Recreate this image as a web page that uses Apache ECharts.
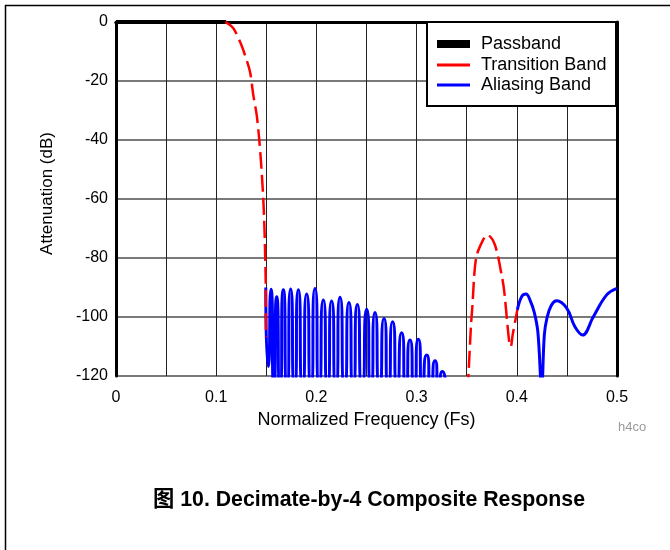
<!DOCTYPE html>
<html>
<head>
<meta charset="utf-8">
<script src="https://cdn.jsdelivr.net/npm/echarts@6/dist/echarts.min.js"></script>
<style>
html,body{margin:0;padding:0;background:#fff;}
#chart{width:670px;height:550px;}
</style>
</head>
<body>
<div id="chart"></div>
<script>
// ---- data ----
const xTicks = [0, 0.1, 0.2, 0.3, 0.4, 0.5];
const yTicks = [0, -20, -40, -60, -80, -100, -120];

const passFreq = [0, 0.11];
const passDb = [0, 0];

const trans1Freq = [0.1090, 0.1107, 0.1171, 0.1238, 0.1287, 0.1337, 0.1370, 0.1404, 0.1427, 0.1447, 0.1464, 0.1477, 0.1487, 0.1494, 0.1497];
const trans1Db = [0, -0.3, -2.1, -6.7, -11.2, -16.8, -24.7, -31.5, -38.9, -47.4, -56.4, -65.4, -76.7, -88.0, -106.7];

const trans2Freq = [0.3510, 0.3543, 0.3556, 0.3593, 0.3660, 0.3709, 0.3782, 0.3849, 0.3875, 0.3925, 0.3940, 0.3959, 0.4005];
const trans2Db = [-125, -102.7, -96.7, -80.1, -74.1, -72.2, -75.6, -85.8, -91.4, -108.7, -110.0, -106.0, -97.6];

const alias1Freq = [0.1495, 0.1520, 0.1547, 0.1576, 0.1604, 0.1637, 0.1670, 0.1707, 0.1743, 0.1782, 0.1820, 0.1862, 0.1903, 0.1945, 0.1986, 0.2028, 0.2069, 0.2111, 0.2152, 0.2194, 0.2236, 0.2281, 0.2325, 0.2367, 0.2409, 0.2456, 0.2502, 0.2544, 0.2585, 0.2630, 0.2675, 0.2718, 0.2761, 0.2806, 0.2851, 0.2893, 0.2934, 0.2976, 0.3017, 0.3059, 0.3101, 0.3143, 0.3184, 0.3221, 0.3257, 0.3290];
const alias1Db = [-90.0, -116.8, -90.6, -124, -93.1, -124, -90.8, -124, -90.5, -124, -90.8, -124, -92.2, -124, -90.3, -124, -94.2, -124, -94.6, -124, -93.3, -124, -95.1, -124, -95.8, -124, -97.4, -124, -98.5, -124, -100.5, -124, -101.6, -124, -105.3, -124, -107.8, -124, -107.5, -124, -112.9, -124, -114.8, -124, -118.5, -124];

const alias2Freq = [0.4005, 0.4050, 0.4092, 0.4135, 0.4175, 0.4210, 0.4248, 0.4275, 0.4300, 0.4345, 0.4398, 0.4498, 0.4580, 0.4657, 0.4764, 0.4897, 0.5000];
const alias2Db = [-97.6, -93.0, -92.2, -94.5, -98.5, -105.0, -124, -106.0, -100.5, -96.0, -94.5, -97.0, -103.3, -106.1, -99.9, -92.5, -90.3];

const seriesNames = ['Passband', 'Transition Band', 'Aliasing Band'];
const titleText = '图 10. Decimate-by-4 Composite Response';
const xName = 'Normalized Frequency (Fs)';
const yName = 'Attenuation (dB)';

// ---- build ----
function pairs(xs, ys) { return xs.map((x, i) => [x, ys[i]]); }
const passData = pairs(passFreq, passDb);
const transData = pairs(trans1Freq, trans1Db).concat([[null, null]], pairs(trans2Freq, trans2Db));
const alias1Data = pairs(alias1Freq, alias1Db);
const alias2Data = pairs(alias2Freq, alias2Db);

const FONT = "'Liberation Sans', Arial, 'Noto Sans CJK SC', sans-serif";
const chart = echarts.init(document.getElementById('chart'), null, {renderer: 'canvas'});

function legendFor(name, top, h) {
  return {
    data: [{name: name, icon: 'rect'}],
    left: 437, top: top, padding: 0, z: 10,
    itemWidth: 33, itemHeight: h,
    textStyle: {fontFamily: FONT, fontSize: 18, color: '#000', padding: [0, 0, 0, 6], lineHeight: 20},
    selectedMode: false
  };
}

const option = {
  animation: false,
  backgroundColor: '#fff',
  title: {
    text: titleText, left: 148, top: 484,
    textStyle: {fontFamily: FONT, fontSize: 21.3, fontWeight: 'bold', color: '#000'}
  },
  grid: {left: 116, right: 53, top: 22, bottom: 174, containLabel: false},
  legend: [
    legendFor(seriesNames[0], 34, 8),
    legendFor(seriesNames[1], 55, 3),
    legendFor(seriesNames[2], 75, 3)
  ],
  xAxis: [{
    type: 'value', min: 0, max: 0.5, interval: 0.05,
    name: xName, nameLocation: 'middle', nameGap: 33,
    nameTextStyle: {fontFamily: FONT, fontSize: 18, color: '#000'},
    axisLine: {show: true, lineStyle: {color: '#000', width: 3}},
    axisTick: {show: false},
    axisLabel: {
      fontFamily: FONT, fontSize: 16, color: '#000', margin: 14,
      formatter: function (v) {
        const k = Math.round(v * 20);
        if (k % 2 !== 0) return '';
        const t = xTicks.find(tk => Math.abs(tk - v) < 1e-9);
        return t === undefined ? '' : String(t);
      }
    },
    splitLine: {show: true, lineStyle: {color: '#222', width: 1}}
  }, {
    type: 'value', position: 'top', min: 0, max: 0.5,
    axisLine: {show: true, lineStyle: {color: '#000', width: 3}},
    axisTick: {show: false}, axisLabel: {show: false}, splitLine: {show: false}
  }],
  yAxis: [{
    type: 'value', min: -120, max: 0, interval: 20,
    name: yName, nameLocation: 'middle', nameGap: 60, nameRotate: 90,
    nameTextStyle: {fontFamily: FONT, fontSize: 17, color: '#000', padding: [0, 0, 0, 11]},
    axisLine: {show: true, onZero: false, lineStyle: {color: '#000', width: 3}},
    axisTick: {show: false},
    axisLabel: {
      fontFamily: FONT, fontSize: 16, color: '#000', margin: 8,
      formatter: function (v) {
        const t = yTicks.find(tk => Math.abs(tk - v) < 1e-9);
        return t === undefined ? '' : String(t);
      }
    },
    splitLine: {show: true, lineStyle: {color: '#7a7a7a', width: 2}}
  }, {
    type: 'value', position: 'right', min: -120, max: 0,
    axisLine: {show: true, onZero: false, lineStyle: {color: '#000', width: 3}},
    axisTick: {show: false}, axisLabel: {show: false}, splitLine: {show: false}
  }],
  series: [{
    name: seriesNames[0], type: 'line', data: passData,
    color: '#000', showSymbol: false, symbol: 'none',
    lineStyle: {color: '#000', width: 4}, clip: true, z: 3
  }, {
    name: seriesNames[2], type: 'line', data: alias1Data,
    color: '#0000ff', showSymbol: false, symbol: 'none', smooth: 1,
    lineStyle: {color: '#0000ff', width: 3}, clip: true, z: 3
  }, {
    name: seriesNames[2], type: 'line', data: alias2Data,
    color: '#0000ff', showSymbol: false, symbol: 'none', smooth: 0.4,
    lineStyle: {color: '#0000ff', width: 3}, clip: true, z: 3
  }, {
    name: seriesNames[1], type: 'line', data: transData,
    color: '#ff0000', showSymbol: false, symbol: 'none', smooth: 0.3,
    connectNulls: false,
    lineStyle: {color: '#ff0000', width: 2.5, type: [17, 6]}, clip: true, z: 4
  }],
  graphic: [
    {type: 'line', shape: {x1: 5, y1: 5.5, x2: 670, y2: 5.5}, style: {stroke: '#000', lineWidth: 1.5}, silent: true},
    {type: 'line', shape: {x1: 5.5, y1: 5, x2: 5.5, y2: 550}, style: {stroke: '#000', lineWidth: 1.5}, silent: true},
    {type: 'rect', shape: {x: 427, y: 22, width: 189, height: 84}, style: {fill: '#fff', stroke: '#000', lineWidth: 2}, z: 2, silent: true},
    {type: 'text', left: 618, top: 421, style: {text: 'h4co', fill: '#9a9a9a', font: "13px 'Liberation Sans', Arial, sans-serif"}, silent: true}
  ]
};
chart.setOption(option);
</script>
</body>
</html>
